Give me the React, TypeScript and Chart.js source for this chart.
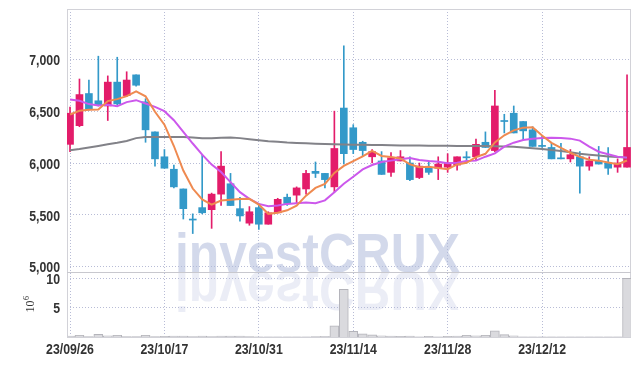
import React, { useEffect, useRef } from "react";
import { Chart, registerables } from "chart.js";
Chart.register(...registerables);

const dates = [
  "23/09/26", "23/09/27", "23/10/04", "23/10/05", "23/10/06", "23/10/10", "23/10/11", "23/10/12", "23/10/13", "23/10/16",
  "23/10/17", "23/10/18", "23/10/19", "23/10/20", "23/10/23", "23/10/24", "23/10/25", "23/10/26", "23/10/27", "23/10/30",
  "23/10/31", "23/11/01", "23/11/02", "23/11/03", "23/11/06", "23/11/07", "23/11/08", "23/11/09", "23/11/10", "23/11/13",
  "23/11/14", "23/11/15", "23/11/16", "23/11/17", "23/11/20", "23/11/21", "23/11/22", "23/11/23", "23/11/24", "23/11/27",
  "23/11/28", "23/11/29", "23/11/30", "23/12/01", "23/12/04", "23/12/05", "23/12/06", "23/12/07", "23/12/08", "23/12/11",
  "23/12/12", "23/12/13", "23/12/14", "23/12/15", "23/12/18", "23/12/19", "23/12/20", "23/12/21", "23/12/22", "23/12/26",
];

const opens = [
  6180, 6360, 6670, 6600, 6550, 6780, 6650, 6850, 6590, 6300,
  6060, 5940, 5750, 5460, 5570, 5550, 5700, 5800, 5560, 5420,
  5570, 5410, 5520, 5670, 5690, 5750, 5920, 5900, 5770, 6530,
  6340, 6200, 6060, 6020, 5910, 6020, 6000, 5860, 5950, 5950,
  5960, 5980, 6060, 6060, 6200, 6120, 6410, 6480, 6400, 6320,
  6170, 6150, 6050, 6040, 6060, 5970, 6020, 6000, 5960, 5960,
];
const highs = [
  6540, 6810, 6800, 7030, 6840, 7020, 6880, 6850, 6620, 6300,
  6130, 5980, 5750, 5510, 6080, 5710, 6110, 5900, 5670, 5580,
  5610, 5530, 5660, 5700, 5770, 5930, 6010, 5900, 6500, 7130,
  6370, 6210, 6130, 6110, 6100, 6120, 6060, 6000, 6020, 6060,
  6090, 6060, 6110, 6230, 6300, 6700, 6470, 6550, 6400, 6350,
  6260, 6190, 6190, 6130, 6110, 6060, 6160, 6150, 6040, 6850,
];
const lows = [
  6110, 6350, 6510, 6550, 6410, 6560, 6640, 6740, 6200, 5970,
  5950, 5760, 5460, 5320, 5510, 5370, 5590, 5590, 5440, 5400,
  5360, 5410, 5520, 5590, 5610, 5700, 5860, 5760, 5720, 5990,
  6090, 6070, 6000, 5890, 5870, 6020, 5830, 5850, 5890, 5840,
  5910, 5930, 6000, 6030, 6150, 6110, 6290, 6290, 6220, 6160,
  6150, 6040, 6040, 6010, 5710, 5930, 5990, 5890, 5910, 5960,
];
const closes = [
  6480, 6660, 6520, 6560, 6780, 6570, 6800, 6750, 6320, 6040,
  5950, 5770, 5560, 5450, 5520, 5700, 5970, 5590, 5490, 5530,
  5410, 5520, 5650, 5610, 5760, 5900, 5900, 5840, 6140, 6090,
  6130, 6120, 6110, 5890, 6050, 6060, 5840, 5970, 5910, 5990,
  6000, 6060, 6050, 6180, 6150, 6550, 6400, 6290, 6310, 6160,
  6160, 6040, 6040, 6080, 5970, 6020, 5990, 5950, 6000, 6150,
];
// volume in units of 10^6 shares
const volumes = [
  0.15, 0.3, 0.08, 0.45, 0.2, 0.3, 0.08, 0.08, 0.3, 0.08,
  0.1, 0.15, 0.15, 0.08, 0.15, 0.08, 0.15, 0.15, 0.15, 0.08,
  0.05, 0.05, 0.05, 0.05, 0.05, 0.05, 0.08, 0.12, 1.9, 8.1,
  0.95, 0.55, 0.35, 0.2, 0.15, 0.1, 0.15, 0.05, 0.1, 0.05,
  0.1, 0.15, 0.3, 0.2, 0.3, 1.05, 0.4, 0.2, 0.05, 0.05,
  0.05, 0.05, 0.05, 0.05, 0.05, 0.05, 0.05, 0.05, 0.05, 10.0,
];
const ma5 = [
  6468, 6503, 6513, 6516, 6597, 6616, 6645, 6690, 6643, 6494,
  6370, 6164, 5927, 5754, 5649, 5598, 5638, 5645, 5652, 5655,
  5599, 5510, 5520, 5544, 5588, 5685, 5760, 5799, 5905, 5972,
  6019, 6064, 6118, 6068, 6059, 6044, 5988, 5960, 5964, 5952,
  5941, 5986, 6002, 6057, 6089, 6198, 6267, 6315, 6341, 6344,
  6266, 6194, 6145, 6099, 6060, 6032, 6023, 6005, 5988, 6024,
];
const ma20 = [
  6613, 6600, 6568, 6555, 6561, 6548, 6587, 6606, 6574, 6542,
  6500, 6413, 6300, 6188, 6081, 5985, 5913, 5816, 5719, 5655,
  5606, 5584, 5590, 5606, 5613, 5620, 5612, 5640, 5719, 5800,
  5868, 5939, 5981, 6010, 6023, 6036, 6048, 6029, 6019, 6013,
  5997, 6003, 6019, 6023, 6061, 6093, 6158, 6196, 6222, 6235,
  6241, 6244, 6241, 6235, 6216, 6158, 6109, 6084, 6061, 6052,
];
const ma60 = [
  6123, 6135, 6150, 6165, 6180, 6195, 6213, 6240, 6250, 6252,
  6252, 6252, 6250, 6245, 6240, 6240, 6244, 6246, 6240, 6230,
  6220, 6210, 6205, 6198, 6194, 6190, 6186, 6183, 6181, 6179,
  6177, 6175, 6174, 6173, 6172, 6170, 6169, 6168, 6167, 6166,
  6166, 6165, 6165, 6164, 6164, 6162, 6160, 6158, 6150, 6142,
  6134, 6126, 6115, 6103, 6090, 6080, 6072, 6063, 6057, 6052,
];
const priceTicks = [5000, 5500, 6000, 6500, 7000];
const volumeTicks = [5, 10];
const dateTickIndices = [0, 10, 20, 30, 40, 50];

const UP = "#e31c6a";
const DOWN = "#3399c9";
const GRID = "rgba(160,165,200,0.75)";
const LABEL_FONT = 'bold 15px "Liberation Sans", Arial, sans-serif';
const LABEL_SX = 0.82;
const LABEL_COLOR = "#333333";

function narrowText(ctx: any, text: string, x: number, y: number, align: string) {
  ctx.save();
  ctx.translate(x, y);
  ctx.scale(LABEL_SX, 1);
  ctx.font = LABEL_FONT;
  ctx.fillStyle = LABEL_COLOR;
  ctx.textAlign = align;
  ctx.textBaseline = "middle";
  ctx.fillText(text, 0, 0);
  ctx.restore();
}

const decor = {
  id: "decor",
  beforeDatasetsDraw(chart: any) {
    const { ctx, chartArea } = chart;
    const y = chart.scales.y;
    ctx.save();
    ctx.beginPath();
    ctx.rect(chartArea.left, chartArea.top, chartArea.right - chartArea.left, chartArea.bottom - chartArea.top);
    ctx.clip();
    const text = "investCRUX";
    ctx.font = 'bold 56px "Liberation Sans", Arial, sans-serif';
    const w = ctx.measureText(text).width;
    ctx.translate(175, y.bottom);
    ctx.scale(285 / w, 1);
    ctx.textBaseline = "alphabetic";
    ctx.fillStyle = "rgba(175,185,218,0.55)";
    ctx.fillText(text, 0, 0);
    ctx.scale(1, -1);
    ctx.fillStyle = "rgba(175,185,218,0.25)";
    ctx.fillText(text, 0, 0);
    ctx.restore();

    ctx.save();
    ctx.strokeStyle = "#d2d2d8";
    ctx.lineWidth = 1;
    ctx.strokeRect(chartArea.left + 0.5, chartArea.top + 0.5, chartArea.right - chartArea.left - 1, chartArea.bottom - chartArea.top);
    ctx.strokeStyle = "#c8c8ce";
    ctx.beginPath();
    ctx.moveTo(chartArea.left, Math.round(y.bottom) + 0.5);
    ctx.lineTo(chartArea.right, Math.round(y.bottom) + 0.5);
    ctx.stroke();
    ctx.restore();
  },
  afterDraw(chart: any) {
    const { ctx } = chart;
    const { x, y, yv } = chart.scales;
    // axis tick labels (positions from the library's scales)
    y.ticks.forEach((t: any) => {
      narrowText(ctx, Number(t.value).toLocaleString("en-US"), 60, y.getPixelForValue(t.value) + 1.5, "right");
    });
    yv.ticks.forEach((t: any) => {
      narrowText(ctx, String(t.value), 60, yv.getPixelForValue(t.value) + 1.5, "right");
    });
    x.ticks.forEach((t: any) => {
      narrowText(ctx, dates[t.value], x.getPixelForValue(t.value), x.top + 12.5, "center");
    });
    // volume axis unit
    const cy = (yv.top + yv.bottom) / 2;
    ctx.save();
    ctx.translate(34, cy);
    ctx.rotate(-Math.PI / 2);
    ctx.fillStyle = "#333";
    ctx.textBaseline = "alphabetic";
    ctx.font = '12px "Liberation Serif", "DejaVu Serif", serif';
    const w1 = ctx.measureText("10").width;
    ctx.font = '8px "Liberation Serif", "DejaVu Serif", serif';
    const w2 = ctx.measureText("6").width;
    const x0 = -(w1 + w2) / 2;
    ctx.font = '12px "Liberation Serif", "DejaVu Serif", serif';
    ctx.fillText("10", x0, 0);
    ctx.font = '8px "Liberation Serif", "DejaVu Serif", serif';
    ctx.fillText("6", x0 + w1 + 0.5, -5);
    ctx.restore();
  },
};

export default function App() {
  const ref = useRef<HTMLCanvasElement | null>(null);
  useEffect(() => {
    document.body.style.margin = "0";
    const idx = dates.map((_, i) => i);
    const bodyColors = idx.map((i) => (closes[i] >= opens[i] ? UP : DOWN));
    const chart = new Chart(ref.current as HTMLCanvasElement, {
      type: "bar",
      data: {
        datasets: [
          {
            type: "line",
            label: "MA5",
            data: idx.map((i) => ({ x: i, y: ma5[i] })),
            borderColor: "#ef8a50",
            borderWidth: 2,
            pointRadius: 0,
            yAxisID: "y",
            order: 0,
          } as any,
          {
            type: "line",
            label: "MA20",
            data: idx.map((i) => ({ x: i, y: ma20[i] })),
            borderColor: "#cc58ec",
            borderWidth: 2,
            pointRadius: 0,
            yAxisID: "y",
            order: 1,
          } as any,
          {
            type: "line",
            label: "MA60",
            data: idx.map((i) => ({ x: i, y: ma60[i] })),
            borderColor: "#828288",
            borderWidth: 2,
            pointRadius: 0,
            yAxisID: "y",
            order: 2,
          } as any,
          {
            type: "bar",
            label: "body",
            data: idx.map((i) => ({ x: i, y: [opens[i], closes[i]] })),
            backgroundColor: bodyColors,
            barThickness: 7,
            minBarLength: 1,
            grouped: false,
            yAxisID: "y",
            order: 3,
          } as any,
          {
            type: "bar",
            label: "wick",
            data: idx.map((i) => ({ x: i, y: [lows[i], highs[i]] })),
            backgroundColor: bodyColors,
            barThickness: 1,
            grouped: false,
            yAxisID: "y",
            order: 4,
          } as any,
          {
            type: "bar",
            label: "volume",
            data: idx.map((i) => ({ x: i, y: volumes[i] })),
            backgroundColor: "#dadade",
            borderColor: "#b4b4ba",
            borderWidth: 1,
            barThickness: 9,
            grouped: false,
            yAxisID: "yv",
            order: 5,
          } as any,
        ],
      },
      options: {
        responsive: false,
        animation: false,
        layout: { padding: { left: 0, right: 8, top: 9, bottom: 0 } },
        plugins: { legend: { display: false }, tooltip: { enabled: false } },
        scales: {
          x: {
            type: "linear",
            position: "bottom",
            offset: false,
            min: -0.32,
            max: 59.42,
            afterBuildTicks: (s: any) => {
              s.ticks = dateTickIndices.map((v) => ({ value: v }));
            },
            afterFit: (s: any) => {
              s.height = 29;
            },
            ticks: { display: false, autoSkip: false },
            grid: { color: GRID, drawTicks: false, offset: false },
            border: { display: false, dash: [1, 2] },
          },
          yv: {
            type: "linear",
            position: "left",
            stack: "panes",
            stackWeight: 1,
            min: 0,
            max: 11.07,
            afterBuildTicks: (s: any) => {
              s.ticks = volumeTicks.map((v) => ({ value: v }));
            },
            afterFit: (s: any) => {
              s.width = 67;
            },
            ticks: { display: false },
            grid: { color: GRID, drawTicks: false },
            border: { display: false, dash: [1, 2] },
          },
          y: {
            type: "linear",
            position: "left",
            stack: "panes",
            stackWeight: 4.04,
            min: 4950,
            max: 7485,
            afterBuildTicks: (s: any) => {
              s.ticks = priceTicks.map((v) => ({ value: v }));
            },
            afterFit: (s: any) => {
              s.width = 67;
            },
            ticks: { display: false },
            grid: { color: GRID, drawTicks: false },
            border: { display: false, dash: [1, 2] },
          },
        },
      },
      plugins: [decor],
    } as any);
    return () => chart.destroy();
  }, []);
  return (
    <div style={{ width: 639, height: 366 }}>
      <canvas ref={ref} width={639} height={366} />
    </div>
  );
}
